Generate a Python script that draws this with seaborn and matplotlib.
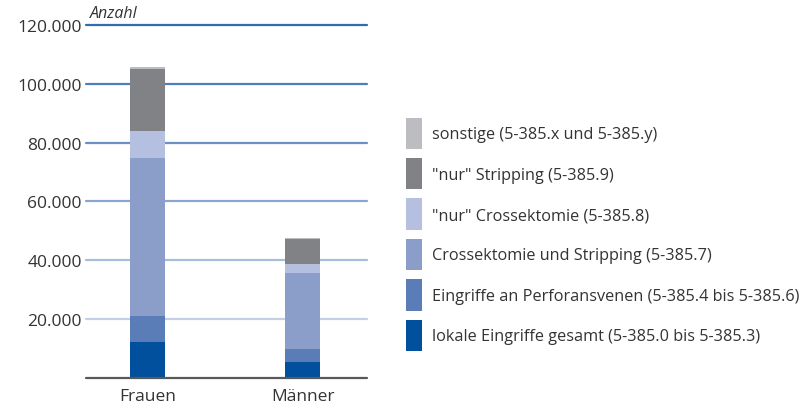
import matplotlib
matplotlib.use('Agg')
import matplotlib.pyplot as plt
import matplotlib.patches as mpatches
import seaborn as sns

# Data
groups = ['Frauen', 'Männer']
layer_names = [
    'lokale Eingriffe gesamt (5-385.0 bis 5-385.3)',
    'Eingriffe an Perforansvenen (5-385.4 bis 5-385.6)',
    'Crossektomie und Stripping (5-385.7)',
    '"nur" Crossektomie (5-385.8)',
    '"nur" Stripping (5-385.9)',
    'sonstige (5-385.x und 5-385.y)',
]
lokale = [12300, 5500]
perforans = [8800, 4300]
cross_strip = [53800, 25800]
nur_cross = [9200, 3000]
nur_strip = [21100, 8500]
sonstige = [400, 350]
layers = [lokale, perforans, cross_strip, nur_cross, nur_strip, sonstige]
colors = ['#00509e', '#5a7db8', '#8a9ec9', '#b5bfdf', '#808285', '#bcbdc0']

yticks = [20000, 40000, 60000, 80000, 100000, 120000]
ytick_labels = ['20.000', '40.000', '60.000', '80.000', '100.000', '120.000']
grid_colors = ['#c3d0e6', '#a9bcdc', '#8aa5cf', '#6a90c4', '#4d80bb', '#2f6cb0']

sns.set_style('white')
plt.rcParams['font.family'] = ['Open Sans', 'DejaVu Sans']

fig = plt.figure(figsize=(8.02, 4.10), dpi=100)
ax = fig.add_axes([0.1072, 0.0756, 0.3504, 0.861])

# grid lines fading from dark to light blue
for y, c in zip(yticks, grid_colors):
    ax.axhline(y, color=c, lw=1.6, zorder=0, clip_on=False)
ax.axhline(0, color='#58595b', lw=1.6, zorder=3, clip_on=False)

bottom = [0, 0]
for vals, col in zip(layers, colors):
    sns.barplot(x=groups, y=vals, bottom=bottom, color=col, width=0.226,
                errorbar=None, saturation=1, ax=ax, zorder=2,
                linewidth=0, edgecolor='none')
    bottom = [b + v for b, v in zip(bottom, vals)]

ax.set_xlim(-0.397, 1.416)
ax.set_ylim(0, 120000)
ax.set_yticks(yticks)
ax.set_yticklabels(ytick_labels, fontsize=12.5, color='#333333')
ax.tick_params(axis='y', length=0, pad=3)
ax.tick_params(axis='x', length=0, pad=7, labelsize=12.5, labelcolor='#333333')
ax.set_xlabel('')
ax.set_ylabel('')
for s in ax.spines.values():
    s.set_visible(False)

fig.text(0.112, 0.966, 'Anzahl', fontsize=11.5, style='italic', color='#333333',
         va='center', ha='left')

handles = [mpatches.Patch(facecolor=c, edgecolor='none') for c in colors][::-1]
fig.legend(handles, layer_names[::-1], loc='upper left',
           bbox_to_anchor=(0.4965, 0.7305), frameon=False, fontsize=11.7,
           handlelength=0.95, handleheight=2.6, labelspacing=0.55,
           handletextpad=0.6, borderpad=0, labelcolor='#333333')

fig.savefig('out.png', dpi=100)
plt.close(fig)
